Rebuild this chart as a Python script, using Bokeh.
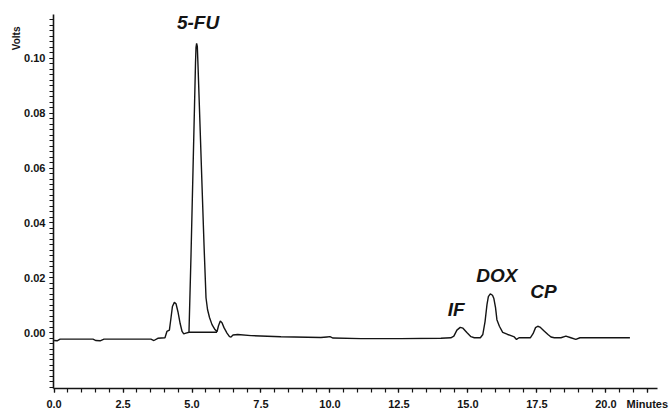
from bokeh.plotting import figure
from bokeh.models import FixedTicker, Range1d, ColumnDataSource, Title
from bokeh.core.properties import value
from bokeh.embed import file_html
from bokeh.resources import INLINE
import numpy as np

# chromatogram trace (minutes, volts)
time_min = [0.00, 0.11, 0.22, 1.41, 1.52, 1.67, 1.81, 3.51, 3.62, 3.76, 4.02, 4.09, 4.18,
            4.24, 4.29, 4.36, 4.42, 4.49, 4.57, 4.64, 4.70, 4.78, 4.89,
            4.964, 5.036, 5.091, 5.127, 5.145, 5.167, 5.192, 5.217, 5.290, 5.362, 5.435,
            5.507, 5.562, 5.634, 5.725, 5.833, 5.906,
            5.960, 6.025, 6.087, 6.159, 6.268, 6.359, 6.413, 6.486, 6.656,
            7.14, 8.22, 9.67, 9.89, 10.00, 10.11, 11.12, 12.57, 14.02, 14.38,
            14.49, 14.60, 14.72, 14.82, 14.96, 15.11, 15.23,
            15.45, 15.54, 15.62, 15.69, 15.74, 15.81, 15.89, 15.94, 16.00, 16.05, 16.14,
            16.26, 16.44, 16.68, 16.76, 16.85,
            17.26, 17.36, 17.45, 17.53, 17.61, 17.75, 17.90, 18.01, 18.13,
            18.37, 18.55, 18.73, 18.91, 19.06, 20.87]
volts = [-0.0029, -0.0030, -0.0024, -0.0024, -0.0029, -0.0030, -0.0024, -0.0024, -0.0029,
         -0.0021, -0.0019, 0.0004, 0.0009,
         0.0055, 0.0095, 0.0110, 0.0105, 0.0076, 0.0033, 0.0004, -0.0005, -0.0002, 0.0001,
         0.0284, 0.0593, 0.0829, 0.0985, 0.1040, 0.1055, 0.1044, 0.0975, 0.0756, 0.0538, 0.0320,
         0.0127, 0.0084, 0.0055, 0.0029, 0.0011, 0.0003,
         0.0025, 0.0042, 0.0036, 0.0018, -0.0002, -0.0015, -0.0016, -0.0009, -0.0007,
         -0.0011, -0.0015, -0.0018, -0.0016, -0.0015, -0.0020, -0.0022, -0.0022, -0.0021, -0.0019,
         -0.0013, 0.0009, 0.0019, 0.0016, 0.0000, -0.0015, -0.0019,
         -0.0019, -0.0007, 0.0040, 0.0102, 0.0131, 0.0141, 0.0136, 0.0124, 0.0091, 0.0047, 0.0023,
         0.0001, -0.0007, -0.0016, -0.0025, -0.0019,
         -0.0019, -0.0004, 0.0018, 0.0023, 0.0020, 0.0007, -0.0007, -0.0016, -0.0019,
         -0.0019, -0.0013, -0.0019, -0.0025, -0.0019, -0.0019]

# integration baseline under the 5-FU peak
base_t = [4.89, 5.906]
base_v = [0.0001, 0.0001]

# peak labels
peak_names = ["5-FU", "IF", "DOX", "CP"]
peak_label_t = [5.22, 14.57, 16.05, 17.74]
peak_label_v = [0.1131, 0.0084, 0.0207, 0.0149]

x_major = [0.0, 2.5, 5.0, 7.5, 10.0, 12.5, 15.0, 17.5, 20.0, 21.5]
x_major_labels = ["0.0", "2.5", "5.0", "7.5", "10.0", "12.5", "15.0", "17.5", "20.0", "Minutes"]
y_major = [0.00, 0.02, 0.04, 0.06, 0.08, 0.10]
y_major_labels = ["0.00", "0.02", "0.04", "0.06", "0.08", "0.10"]

X0, X1 = -0.02, 21.87
Y0, Y1 = -0.0204, 0.116

p = figure(width=671, height=412, output_backend="svg", toolbar_location=None,
           x_range=Range1d(X0, X1), y_range=Range1d(Y0, Y1),
           min_border_left=53, min_border_right=14, min_border_top=14, min_border_bottom=23)
p.background_fill_color = "white"
p.border_fill_color = "white"
p.outline_line_color = None
p.xgrid.visible = False
p.ygrid.visible = False

FONT = "Liberation Sans"
INK = "#141414"

p.xaxis.ticker = FixedTicker(ticks=x_major, minor_ticks=list(np.round(np.arange(0, 21.51, 0.5), 2)))
p.xaxis.major_label_overrides = {t: s for t, s in zip(x_major, x_major_labels)}
p.yaxis.ticker = FixedTicker(ticks=y_major, minor_ticks=list(np.round(np.arange(-0.020, 0.1150, 0.002), 3)))
p.yaxis.major_label_overrides = {t: s for t, s in zip(y_major, y_major_labels)}

for ax in (p.xaxis, p.yaxis):
    ax.axis_line_color = INK
    ax.axis_line_width = 1.6
    ax.major_tick_line_color = INK
    ax.minor_tick_line_color = INK
    ax.major_tick_line_width = 1.2
    ax.minor_tick_line_width = 1.2
    ax.major_tick_out = 4
    ax.major_tick_in = 0
    ax.minor_tick_out = 4
    ax.minor_tick_in = 0
    ax.major_label_text_font = FONT
    ax.major_label_text_font_style = "bold"
    ax.major_label_text_font_size = "11px"
    ax.major_label_text_color = INK
p.xaxis.major_label_standoff = 5
p.yaxis.major_label_standoff = 4

src = ColumnDataSource(dict(t=time_min, v=volts))
p.line("t", "v", source=src, line_color=INK, line_width=1.4)
p.line(base_t, base_v, line_color=INK, line_width=1.4)

lab = ColumnDataSource(dict(t=peak_label_t, v=peak_label_v, name=peak_names))
p.text("t", "v", text="name", source=lab, text_font=value(FONT), text_font_style="bold italic",
       text_font_size="19px", text_align="center", text_baseline="middle", text_color=INK)

p.add_layout(Title(text="Volts", align="right", offset=12, standoff=0,
                   text_font=FONT, text_font_style="bold", text_font_size="10px",
                   text_color=INK), "left")

open("out.html", "w").write(file_html(p, INLINE))
